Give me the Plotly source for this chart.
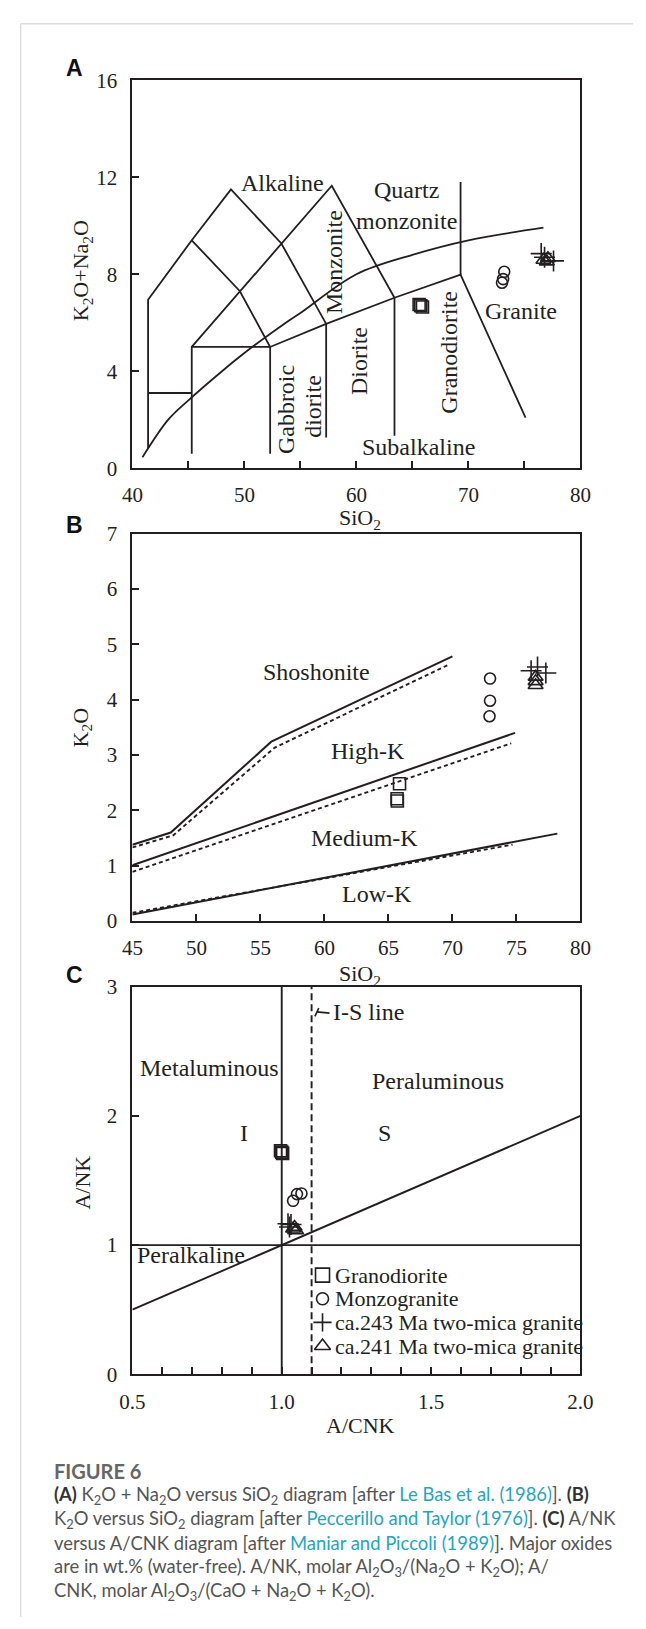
import plotly.graph_objects as go
import numpy as np

INK = "#231f20"
SERIF = "Liberation Serif, Times New Roman, serif"
SANS = "Liberation Sans, Arial, sans-serif"
CAP_FONT = "Lato, Open Sans, sans-serif"
LINK = "#22a5c3"

W, H = 646, 1629
X_L, X_R = 124.4, 591.2
A_T, A_B = 69.3, 463.0
B_T, B_B = 529.3, 922.7
C_T, C_B = 989.3, 1382.7

# ---------------- Panel A: TAS boundaries (SiO2 vs K2O+Na2O) ----------------
tas_outer_x = [41.4, 41.4, 45.3, 48.8, 53.3, 57.3, 57.3]
tas_outer_y = [0.8, 6.95, 9.4, 11.5, 9.27, 5.95, 1.27]
tas_inner_x = [45.3, 49.6, 52.3, 52.3]
tas_inner_y = [9.4, 7.3, 5.0, 0.6]
tas_monz_x = [45.3, 45.3, 57.8, 63.4, 63.4]
tas_monz_y = [0.6, 5.0, 11.65, 7.03, 1.34]
tas_lower_x = [45.3, 52.3, 57.3, 63.4, 69.3, 75.1]
tas_lower_y = [5.0, 5.0, 5.95, 7.03, 7.98, 2.09]
tas_qm_x = [69.3, 69.3]
tas_qm_y = [7.98, 11.8]
tas_gab_x = [41.4, 45.3]
tas_gab_y = [3.1, 3.1]
ib_x = [40.9, 43.2, 45.0, 48.0, 50.0, 53.7, 55.0, 60.0, 65.0, 70.0, 76.7]
ib_y = [0.45, 2.0, 2.8, 4.0, 4.75, 6.0, 6.4, 8.0, 8.8, 9.4, 9.92]

tas_labels = ["Alkaline", "Quartz<br>monzonite", "Subalkaline", "Granite"]
tas_label_x = [53.4, 64.45, 65.55, 74.7]
tas_label_y = [11.78, 10.82, 0.87, 6.49]
tas_vlabels = ["Monzonite", "Gabbroic", "diorite", "Diorite", "Granodiorite"]
tas_vlabel_x = [57.95, 53.7, 56.1, 60.25, 68.3]
tas_vlabel_y = [8.52, 2.43, 2.56, 4.43, 4.78]

# samples panel A
a_grd_x = [65.6, 65.75, 65.9]
a_grd_y = [6.75, 6.7, 6.65]
a_mzg_x = [73.2, 73.1, 73.0]
a_mzg_y = [8.1, 7.8, 7.65]
a_243_x = [76.5, 77.6, 76.8]
a_243_y = [8.85, 8.55, 8.7]
a_241_x = [76.7, 77.0, 77.1]
a_241_y = [8.59, 8.52, 8.66]

# ---------------- Panel B: K2O vs SiO2 ----------------
pt_sho_x = [45.0, 48.0, 55.85, 70.0]
pt_sho_y = [1.38, 1.60, 3.24, 4.78]
pt_hk_x = [45.0, 74.9]
pt_hk_y = [1.01, 3.40]
pt_lk_x = [45.0, 78.2]
pt_lk_y = [0.12, 1.58]
pt_sho_d_x = [45.0, 48.2, 56.1, 69.6]
pt_sho_d_y = [1.33, 1.55, 3.13, 4.62]
pt_hk_d_x = [45.0, 74.6]
pt_hk_d_y = [0.89, 3.21]
pt_lk_d_x = [45.0, 74.7]
pt_lk_d_y = [0.15, 1.38]

pt_labels = ["Shoshonite", "High-K", "Medium-K", "Low-K"]
pt_label_x = [59.4, 63.4, 63.1, 64.1]
pt_label_y = [4.5, 3.07, 1.50, 0.49]

b_grd_x = [65.87, 65.68, 65.7]
b_grd_y = [2.48, 2.21, 2.17]
b_mzg_x = [72.94, 72.94, 72.9]
b_mzg_y = [4.38, 3.98, 3.70]
b_243_x = [76.65, 77.3, 76.15]
b_243_y = [4.59, 4.48, 4.52]
b_241_x = [76.5, 76.5, 76.5]
b_241_y = [4.41, 4.33, 4.26]

# ---------------- Panel C: A/NK vs A/CNK ----------------
mp_v_x = [1.0, 1.0]
mp_v_y = [0.0, 3.0]
mp_is_x = [1.1, 1.1]
mp_is_y = [0.0, 3.0]
mp_h_x = [0.5, 2.0]
mp_h_y = [1.0, 1.0]
mp_d_x = [0.5, 2.0]
mp_d_y = [0.5, 2.0]

mp_labels = ["Metaluminous", "Peraluminous", "I", "S", "Peralkaline", "I-S line"]
mp_label_x = [0.519, 1.524, 0.873, 1.345, 0.508, 1.166]
mp_label_y = [2.37, 2.27, 1.87, 1.87, 0.923, 2.807]
mp_label_anchor = ["left", "center", "center", "center", "left", "left"]

c_grd_x = [0.996, 1.003, 1.0]
c_grd_y = [1.73, 1.71, 1.72]
c_mzg_x = [1.038, 1.051, 1.066]
c_mzg_y = [1.343, 1.395, 1.40]
c_243_x = [1.021, 1.026, 1.031]
c_243_y = [1.165, 1.14, 1.16]
c_241_x = [1.038, 1.048, 1.043]
c_241_y = [1.127, 1.114, 1.14]

group_names = ["Granodiorite", "Monzogranite", "ca.243 Ma two-mica granite", "ca.241 Ma two-mica granite"]
group_symbols = ["square-open", "circle-open", "cross-thin-open", "triangle-up-open"]
group_sizes = [12, 11, 15, 13]
legend_sizes = [14, 12, 13, 14]

fig = go.Figure()


def add_line(xs, ys, ax, dash="solid", width=1.8, shape="linear"):
    fig.add_trace(go.Scatter(x=xs, y=ys, mode="lines", xaxis=ax[0], yaxis=ax[1],
                             line=dict(color=INK, width=width, dash=dash, shape=shape),
                             showlegend=False, hoverinfo="skip"))


def add_pts(xs, ys, ax, gi):
    fig.add_trace(go.Scatter(x=xs, y=ys, mode="markers", xaxis=ax[0], yaxis=ax[1],
                             name=group_names[gi], showlegend=False,
                             marker=dict(symbol=group_symbols[gi], size=group_sizes[gi],
                                         color=INK, line=dict(color=INK, width=1.6))))


AX_A, AX_B, AX_C = ("x", "y"), ("x2", "y2"), ("x3", "y3")

# Panel A lines
for xs, ys in [(tas_outer_x, tas_outer_y), (tas_inner_x, tas_inner_y), (tas_monz_x, tas_monz_y),
               (tas_lower_x, tas_lower_y), (tas_qm_x, tas_qm_y), (tas_gab_x, tas_gab_y)]:
    add_line(xs, ys, AX_A)
add_line(ib_x, ib_y, AX_A, shape="spline")
for gi, (xs, ys) in enumerate([(a_grd_x, a_grd_y), (a_mzg_x, a_mzg_y), (a_243_x, a_243_y), (a_241_x, a_241_y)]):
    add_pts(xs, ys, AX_A, gi)

# Panel B lines
for xs, ys in [(pt_sho_x, pt_sho_y), (pt_hk_x, pt_hk_y), (pt_lk_x, pt_lk_y)]:
    add_line(xs, ys, AX_B, width=2.0)
for xs, ys in [(pt_sho_d_x, pt_sho_d_y), (pt_hk_d_x, pt_hk_d_y), (pt_lk_d_x, pt_lk_d_y)]:
    add_line(xs, ys, AX_B, dash="4px,3px", width=1.9)
for gi, (xs, ys) in enumerate([(b_grd_x, b_grd_y), (b_mzg_x, b_mzg_y), (b_243_x, b_243_y), (b_241_x, b_241_y)]):
    add_pts(xs, ys, AX_B, gi)

# Panel C lines
add_line(mp_v_x, mp_v_y, AX_C, width=1.9)
add_line(mp_is_x, mp_is_y, AX_C, dash="7px,4px", width=1.9)
add_line(mp_h_x, mp_h_y, AX_C, width=1.9)
add_line(mp_d_x, mp_d_y, AX_C, width=1.9)
for gi, (xs, ys) in enumerate([(c_grd_x, c_grd_y), (c_mzg_x, c_mzg_y), (c_243_x, c_243_y), (c_241_x, c_241_y)]):
    add_pts(xs, ys, AX_C, gi)

# manual legend inside panel C (glyphs + text), positioned in pixels
LEG_GLYPH_X, LEG_TEXT_X, LEG_Y0, LEG_DY = 322.5, 333.0, 1282.0, 24.0
c_xr, c_yr = (0.5, 2.0), (0.0, 3.0)
for gi, name in enumerate(group_names):
    fy = LEG_Y0 + gi * LEG_DY
    gx = c_xr[0] + (LEG_GLYPH_X - X_L) / (X_R - X_L) * (c_xr[1] - c_xr[0])
    gy = c_yr[0] + (C_B - fy) / (C_B - C_T) * (c_yr[1] - c_yr[0])
    fig.add_trace(go.Scatter(x=[gx], y=[gy], mode="markers", xaxis="x3", yaxis="y3", showlegend=False,
                             hoverinfo="skip",
                             marker=dict(symbol=group_symbols[gi], size=legend_sizes[gi],
                                         color=INK, line=dict(color=INK, width=1.6))))
    fig.add_annotation(x=LEG_TEXT_X / W, y=1 - fy / H, xref="paper", yref="paper", text=name,
                       showarrow=False, xanchor="left", yanchor="middle",
                       font=dict(family=SERIF, size=22, color=INK))

# I-S line leader (small tick)
fig.add_shape(type="line", xref="x3", yref="y3", x0=1.111, y0=2.77, x1=1.124, y1=2.835,
              line=dict(color=INK, width=1.6))
fig.add_shape(type="line", xref="x3", yref="y3", x0=1.118, y0=2.805, x1=1.16, y1=2.795,
              line=dict(color=INK, width=1.8))

# text labels
LBL = dict(family=SERIF, size=24, color=INK)
for t, x, y in zip(tas_labels, tas_label_x, tas_label_y):
    fig.add_annotation(x=x, y=y, xref="x", yref="y", text=t, showarrow=False, font=LBL)
for t, x, y in zip(tas_vlabels, tas_vlabel_x, tas_vlabel_y):
    fig.add_annotation(x=x, y=y, xref="x", yref="y", text=t, showarrow=False, font=LBL, textangle=-90)
for t, x, y in zip(pt_labels, pt_label_x, pt_label_y):
    fig.add_annotation(x=x, y=y, xref="x2", yref="y2", text=t, showarrow=False, font=LBL)
for t, x, y, a in zip(mp_labels, mp_label_x, mp_label_y, mp_label_anchor):
    fig.add_annotation(x=x, y=y, xref="x3", yref="y3", text=t, showarrow=False, font=LBL, xanchor=a)

# axis titles and panel letters
TITLE = dict(family=SERIF, size=22, color=INK)
for t, fx, fy in [("SiO<sub>2</sub>", 362, 515), ("SiO<sub>2</sub>", 362, 977), ("A/CNK", 362, 1435)]:
    fig.add_annotation(x=fx / W, y=1 - fy / H, xref="paper", yref="paper", text=t, showarrow=False,
                       font=TITLE, xanchor="center", yanchor="middle")
for t, fy in [("K<sub>2</sub>O+Na<sub>2</sub>O", 263), ("K<sub>2</sub>O", 727), ("A/NK", 1188)]:
    fig.add_annotation(x=72 / W, y=1 - fy / H, xref="paper", yref="paper", text=t, showarrow=False,
                       font=TITLE, textangle=-90, xanchor="center", yanchor="middle")
for t, fy in [("A", 57), ("B", 521), ("C", 977)]:
    fig.add_annotation(x=64 / W, y=1 - fy / H, xref="paper", yref="paper", text="<b>%s</b>" % t,
                       showarrow=False, font=dict(family=SANS, size=23, color="#111"),
                       xanchor="center", yanchor="middle")

# caption
caption_lines = [
    "<b><span style='color:#333'>(A)</span></b> K<sub>2</sub>O + Na<sub>2</sub>O versus SiO<sub>2</sub> diagram [after <span style='color:%s'>Le Bas et al. (1986)</span>]. <b><span style='color:#333'>(B)</span></b>" % LINK,
    "K<sub>2</sub>O versus SiO<sub>2</sub> diagram [after <span style='color:%s'>Peccerillo and Taylor (1976)</span>]. <b><span style='color:#333'>(C)</span></b> A/NK" % LINK,
    "versus A/CNK diagram [after <span style='color:%s'>Maniar and Piccoli (1989)</span>]. Major oxides" % LINK,
    "are in wt.% (water-free). A/NK, molar Al<sub>2</sub>O<sub>3</sub>/(Na<sub>2</sub>O + K<sub>2</sub>O); A/",
    "CNK, molar Al<sub>2</sub>O<sub>3</sub>/(CaO + Na<sub>2</sub>O + K<sub>2</sub>O).",
]
fig.add_annotation(x=41 / W, y=1 - 1481 / H, xref="paper", yref="paper", text="<b>FIGURE 6</b>",
                   showarrow=False, xanchor="left", yanchor="middle",
                   font=dict(family=CAP_FONT, size=20, color="#666"))
for i, t in enumerate(caption_lines):
    fig.add_annotation(x=41 / W, y=1 - (1506 + 24.2 * i) / H, xref="paper", yref="paper", text=t,
                       showarrow=False, xanchor="left", yanchor="middle",
                       font=dict(family=CAP_FONT, size=18.4, color="#555"))

# page frame
fig.add_shape(type="line", xref="paper", yref="paper", x0=8 / W, x1=1, y0=1 - 12 / H, y1=1 - 12 / H,
              line=dict(color="#dcdcdc", width=1.5))
fig.add_shape(type="line", xref="paper", yref="paper", x0=8 / W, x1=8 / W, y0=0, y1=1 - 12 / H,
              line=dict(color="#dcdcdc", width=1.5))

TICKF = dict(family=SERIF, size=21, color=INK)
MINOR = dict(ticks="inside", ticklen=7, tickwidth=1.6, tickcolor=INK, showgrid=False)
common = dict(showline=True, mirror=True, linecolor=INK, linewidth=2, ticks="inside", ticklen=7,
              tickwidth=1.6, tickcolor=INK, showgrid=False, zeroline=False, tickfont=TICKF,
              tickmode="linear")
xcommon = dict(common, ticklabelstandoff=7)
ycommon = dict(common, ticklabelstandoff=9)

xdom = [X_L / W, X_R / W]
fig.update_layout(
    width=W, height=H, margin=dict(l=0, r=0, t=0, b=0),
    paper_bgcolor="white", plot_bgcolor="white", showlegend=False,
    xaxis=dict(domain=xdom, range=[40, 80], anchor="y", tick0=40, dtick=10,
               minor=dict(MINOR, dtick=5, tick0=40), **xcommon),
    yaxis=dict(domain=[1 - A_B / H, 1 - A_T / H], range=[0, 16], anchor="x", tick0=0, dtick=4, **ycommon),
    xaxis2=dict(domain=xdom, range=[45, 80], anchor="y2", tick0=45, dtick=5, **xcommon),
    yaxis2=dict(domain=[1 - B_B / H, 1 - B_T / H], range=[0, 7], anchor="x2", tick0=0, dtick=1, **ycommon),
    xaxis3=dict(domain=xdom, range=[0.5, 2.0], anchor="y3", tick0=0.5, dtick=0.5, tickformat=".1f",
                minor=dict(MINOR, dtick=0.1, tick0=0.5), **xcommon),
    yaxis3=dict(domain=[1 - C_B / H, 1 - C_T / H], range=[0, 3], anchor="x3", tick0=0, dtick=1, **ycommon),
)

fig.write_html("out.html")
